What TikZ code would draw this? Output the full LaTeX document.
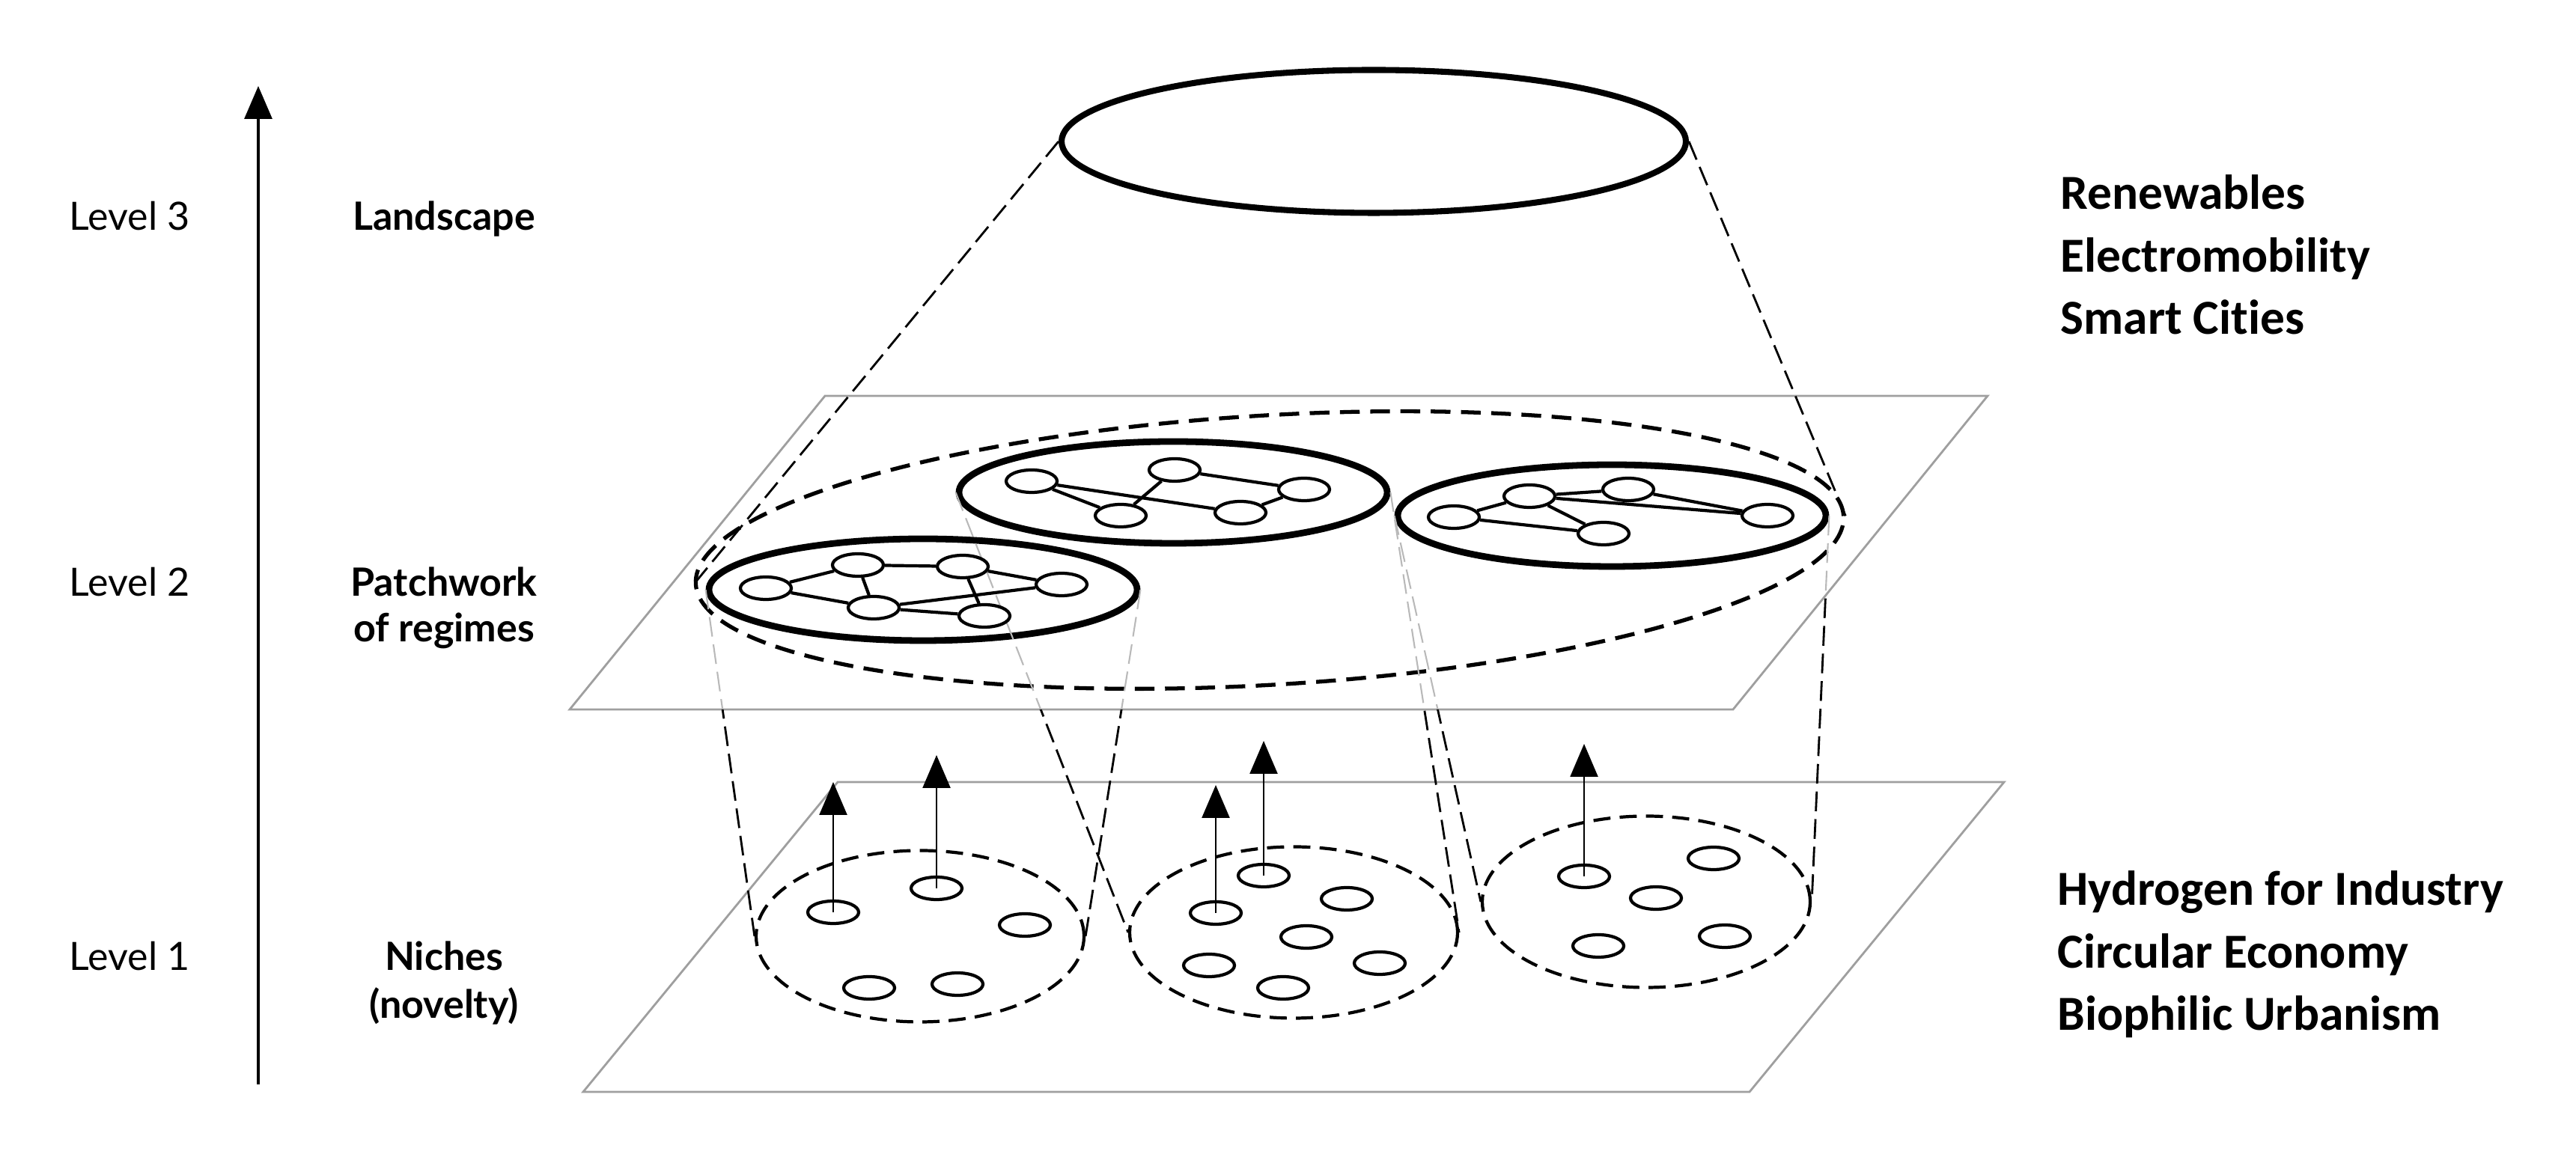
\documentclass[tikz,border=0pt]{standalone}
\usepackage{fontspec}
\setmainfont{Lato}
\newfontfamily\carlito[Ligatures=NoCommon]{Carlito}
\usetikzlibrary{arrows.meta,shapes.geometric}

\tikzset{
  plane/.style={draw=gray!75,line width=0.8pt},
  landring/.style={draw,ellipse,line width=2.3pt,inner sep=0pt,minimum width=8.34cm,minimum height=1.91cm},
  patchring/.style={draw,ellipse,line width=1.5pt,dash pattern=on 7.5pt off 4pt,inner sep=0pt,minimum width=15.36cm,minimum height=3.6cm},
  regime/.style={draw,ellipse,line width=2.5pt,inner sep=0pt,minimum width=5.72cm,minimum height=1.36cm},
  niche/.style={draw,ellipse,line width=1.2pt,dash pattern=on 6.5pt off 3.5pt,inner sep=0pt,minimum width=4.38cm,minimum height=2.29cm},
  actor/.style={draw,fill=white,ellipse,line width=1.2pt,inner sep=0pt,minimum width=0.68cm,minimum height=0.30cm},
  link/.style={line width=1.2pt},
  cone/.style={line width=0.8pt,dash pattern=on 7.5pt off 3pt},
  backline/.style={draw=gray!55,line width=0.6pt,dash pattern=on 7.5pt off 3pt},
  rise/.style={line width=0.7pt,-{Triangle[width=10.5pt,length=12.5pt]}},
  levelaxis/.style={line width=0.9pt,-{Triangle[width=10.5pt,length=12.5pt]}},
  lvl/.style={inner sep=0pt,anchor=base west,font=\fontsize{14.8}{17.6}\selectfont},
  midlabel/.style={inner sep=0pt,anchor=base,font=\fontsize{14.8}{17.6}\selectfont\bfseries},
  trendlabel/.style={inner sep=0pt,anchor=base west,font=\carlito\bfseries\fontsize{18.6}{24}\selectfont}
}

\begin{document}
\begin{tikzpicture}
\useasboundingbox (0,0) rectangle (34.41,15.42);
% Planes (level 2 and level 1)
\coordinate (u1) at (11.02,10.13);
\coordinate (u2) at (26.55,10.13);
\coordinate (u3) at (23.15,5.94);
\coordinate (u4) at (7.61,5.94);
\coordinate (l1) at (11.19,4.97);
\coordinate (l2) at (26.77,4.97);
\coordinate (l3) at (23.37,0.83);
\coordinate (l4) at (7.79,0.83);
\draw[plane] (u1)--(u2)--(u3)--(u4)--cycle;
\draw[plane] (l1)--(l2)--(l3)--(l4)--cycle;
% Level axis
\coordinate (ax0) at (3.45,0.93);
\coordinate (ax1) at (3.45,14.27);
\draw[levelaxis] (ax0)--(ax1);
% Landscape, patchwork and regimes
\node[landring] (land) at (18.35,13.53) {};
\node[patchring,rotate=3.4] (patch) at (16.96,8.07) {};
\node[regime] (r1) at (12.33,7.54) {};
\node[regime] (r2) at (15.67,8.84) {};
\node[regime] (r3) at (21.53,8.53) {};
% Niches
\node[niche] (n1) at (12.29,2.91) {};
\node[niche] (n2) at (17.28,2.96) {};
\node[niche] (n3) at (21.99,3.37) {};
% Cone lines, parts seen through the regime plane
\begin{scope}
\clip (u1)--(u2)--(u3)--(u4)--cycle;
\draw[backline] (r1.west)--(n1.west);
\draw[backline] (r1.east)--(n1.east);
\draw[backline] (r2.west)--(n2.west);
\draw[backline] (r2.east)--(n2.east);
\draw[backline] (r3.west)--(n3.west);
\draw[backline] (r3.east)--(n3.east);
\end{scope}
% Cone lines, free parts
\begin{scope}
\clip (0,0)--(0,5.94)--(u3)--(u2)--(34.41,10.13)--(34.41,0)--cycle;
\draw[cone] (r1.west)--(n1.west);
\draw[cone] (r1.east)--(n1.east);
\draw[cone] (r2.west)--(n2.west);
\draw[cone] (r2.east)--(n2.east);
\draw[cone] (r3.west)--(n3.west);
\draw[cone] (r3.east)--(n3.east);
\end{scope}
\draw[cone] (land.west)--(patch.west);
\draw[cone] (land.east)--(patch.east);
% Regime networks
\node[actor] (a1) at (10.23,7.56) {};
\node[actor] (a2) at (11.46,7.87) {};
\node[actor] (a3) at (12.86,7.85) {};
\node[actor] (a4) at (14.18,7.61) {};
\node[actor] (a5) at (11.67,7.30) {};
\node[actor] (a6) at (13.15,7.19) {};
\draw[link] (a1)--(a2) (a1)--(a5) (a2)--(a3) (a2)--(a5) (a3)--(a4) (a3)--(a6) (a5)--(a4) (a5)--(a6);
\node[actor] (b1) at (13.78,8.99) {};
\node[actor] (b2) at (15.69,9.14) {};
\node[actor] (b3) at (17.42,8.88) {};
\node[actor] (b4) at (14.97,8.53) {};
\node[actor] (b5) at (16.57,8.57) {};
\draw[link] (b1)--(b4) (b1)--(b5) (b2)--(b4) (b2)--(b3) (b3)--(b5);
\node[actor] (c1) at (19.42,8.51) {};
\node[actor] (c2) at (20.43,8.79) {};
\node[actor] (c3) at (21.75,8.88) {};
\node[actor] (c4) at (21.42,8.29) {};
\node[actor] (c5) at (23.61,8.53) {};
\draw[link] (c1)--(c2) (c1)--(c4) (c2)--(c3) (c2)--(c4) (c2)--(c5) (c3)--(c5);
% Niche actors
\node[actor] (p11) at (11.13,3.23) {};
\node[actor] (p12) at (12.51,3.55) {};
\node[actor] (p13) at (13.69,3.06) {};
\node[actor] (p14) at (11.61,2.22) {};
\node[actor] (p15) at (12.79,2.27) {};
\node[actor] (p21) at (16.24,3.22) {};
\node[actor] (p22) at (16.88,3.72) {};
\node[actor] (p23) at (17.99,3.41) {};
\node[actor] (p24) at (17.45,2.90) {};
\node[actor] (p25) at (16.15,2.52) {};
\node[actor] (p26) at (18.43,2.55) {};
\node[actor] (p27) at (17.14,2.22) {};
\node[actor] (p31) at (21.16,3.71) {};
\node[actor] (p32) at (22.89,3.95) {};
\node[actor] (p33) at (22.12,3.42) {};
\node[actor] (p34) at (21.35,2.78) {};
\node[actor] (p35) at (23.04,2.91) {};
% Arrows up from the niches
\coordinate (t1) at (11.13,4.97);
\coordinate (t2) at (12.51,5.33);
\coordinate (t3) at (16.24,4.93);
\coordinate (t4) at (16.88,5.52);
\coordinate (t5) at (21.16,5.48);
\draw[rise] (p11.center)--(t1);
\draw[rise] (p12.center)--(t2);
\draw[rise] (p21.center)--(t3);
\draw[rise] (p22.center)--(t4);
\draw[rise] (p31.center)--(t5);
% Level labels
\node[lvl] (lv3) at (0.92,12.34) {Level 3};
\node[lvl] (lv2) at (0.92,7.45) {Level 2};
\node[lvl] (lv1) at (0.92,2.45) {Level 1};
\node[midlabel] (landtxt) at (5.93,12.34) {Landscape};
\node[midlabel] (regtxt1) at (5.93,7.45) {Patchwork};
\node[midlabel] (regtxt2) at (5.93,6.84) {of regimes};
\node[midlabel] (nictxt1) at (5.93,2.45) {Niches};
\node[midlabel] (nictxt2) at (5.93,1.81) {(novelty)};
% Trends
\node[trendlabel] (tr1) at (27.52,12.62) {Renewables};
\node[trendlabel] (tr2) at (27.52,11.78) {Electromobility};
\node[trendlabel] (tr3) at (27.52,10.95) {Smart Cities};
\node[trendlabel] (tr4) at (27.48,3.32) {Hydrogen for Industry};
\node[trendlabel] (tr5) at (27.48,2.48) {Circular Economy};
\node[trendlabel] (tr6) at (27.48,1.65) {Biophilic Urbanism};
\end{tikzpicture}
\end{document}
